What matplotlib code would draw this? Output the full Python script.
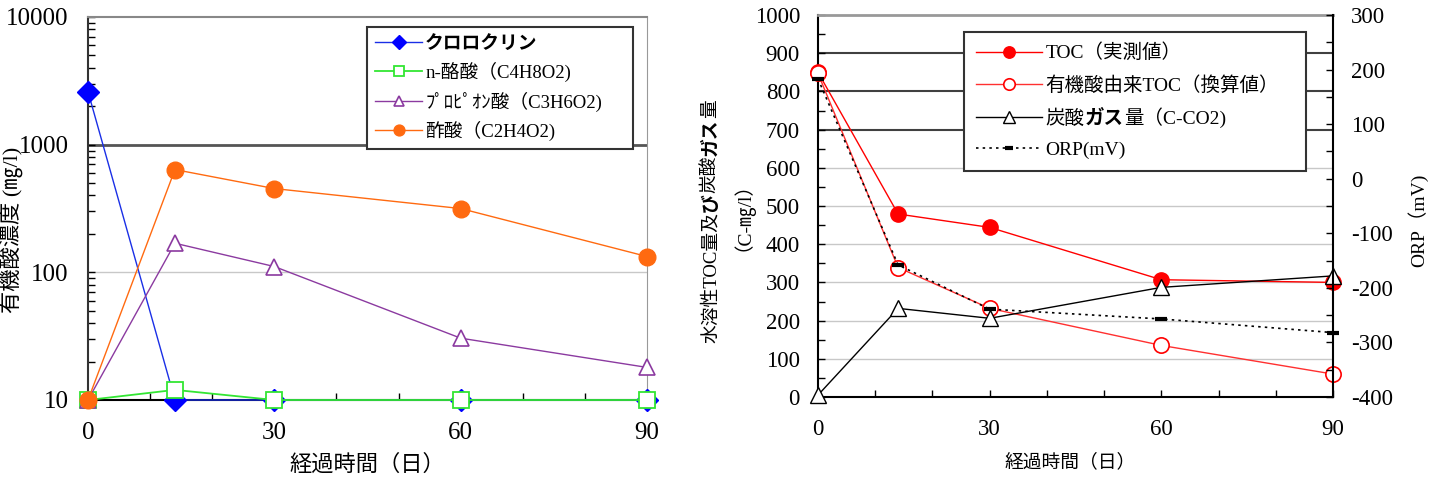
import matplotlib
matplotlib.use('Agg')
import matplotlib.pyplot as plt
from matplotlib.ticker import MultipleLocator, LogLocator, NullFormatter, FuncFormatter
from matplotlib.text import Annotation

plt.rcParams['font.family'] = ['Liberation Serif', 'Noto Sans CJK JP']
plt.rcParams['axes.unicode_minus'] = False

days = [0, 14, 30, 60, 90]

# left panel: organic acid concentration (mg/l)
chloropicrin = [2600, 10, 10, 10, 10]
butyric = [10, 12, 10, 10, 10]
propionic = [10, 169, 111, 30.5, 18]
acetic = [10, 638, 453, 316, 133]
left_labels = ['クロロクリン', 'n-酪酸（C4H8O2)', 'ﾌﾟﾛﾋﾟｵﾝ酸（C3H6O2)', '酢酸（C2H4O2)']

# right panel: TOC / CO2 (C-mg/l) and ORP (mV)
toc_measured = [850, 479, 444, 307, 300]
toc_from_acids = [847, 339, 232, 135, 60]
co2_gas = [5, 232, 206, 287, 317]
orp_mv = [183, -158, -239, -257, -282]
right_labels = ['TOC（実測値）', '有機酸由来TOC（換算値）', '炭酸', 'ORP(mV)']

W, H = 1430, 479
fig = plt.figure(figsize=(W / 100, H / 100), dpi=100)


def fx(px):
    return px / W


def fy(py):
    return 1 - py / H


#############################################################
# left: organic acids, log scale
#############################################################
ax1 = fig.add_axes([fx(88), fy(400), fx(647 - 88), (400 - 17) / H])
l1, = ax1.plot(days, chloropicrin, color='#1a2fe6', lw=1, marker='D', ms=11,
               mfc='#0000ff', mec='#0000ff', clip_on=False, zorder=3)
l2, = ax1.plot(days, butyric, color='#33e633', lw=1.3, marker='s', ms=11,
               mfc='white', mec='#33e633', mew=1.3, clip_on=False, zorder=4)
l3, = ax1.plot(days, propionic, color='#8b3aa0', lw=1, marker='^', ms=12,
               mfc='white', mec='#8b3aa0', mew=1.2, clip_on=False, zorder=4)
l4, = ax1.plot(days, acetic, color='#ff6a10', lw=1, marker='o', ms=12,
               mfc='#ff6a10', mec='#ff6a10', clip_on=False, zorder=5)

ax1.set_yscale('log')
ax1.set_ylim(10, 10000)
ax1.set_xlim(0, 90)
ax1.axhline(1000, color='#555555', lw=2, zorder=1)
ax1.axhline(100, color='#c8c8c8', lw=1, zorder=1)
ax1.yaxis.set_major_locator(LogLocator(base=10))
ax1.yaxis.set_minor_locator(LogLocator(base=10, subs=range(2, 10)))
ax1.yaxis.set_minor_formatter(NullFormatter())
ax1.yaxis.set_major_formatter(FuncFormatter(lambda v, p: '%.0f' % v))
ax1.xaxis.set_major_locator(MultipleLocator(30))
ax1.xaxis.set_minor_locator(MultipleLocator(10))
ax1.tick_params(which='both', direction='in', length=5, width=1,
                top=False, right=False)
ax1.tick_params(axis='y', which='major', labelsize=18, pad=14)
ax1.tick_params(axis='x', which='major', labelsize=18, pad=16)
ax1.spines['top'].set_color('#888888')
ax1.spines['top'].set_linewidth(1.5)
ax1.spines['right'].set_color('#999999')
ax1.spines['left'].set_color('#333333')
ax1.spines['left'].set_linewidth(1.5)
ax1.spines['bottom'].set_linewidth(1.5)

leg1 = ax1.legend([l1, l2, l3, l4], left_labels, loc='upper left',
                  bbox_to_anchor=(fx(367), fy(27), fx(633 - 367), 0),
                  bbox_transform=fig.transFigure, mode='expand', borderaxespad=0,
                  fancybox=False, edgecolor='#333333', framealpha=1, fontsize=13.5,
                  handlelength=2.5, handletextpad=0.15, labelspacing=0.5,
                  borderpad=0.45, markerscale=0.65)
leg1.get_frame().set_linewidth(1.5)
leg1.get_texts()[0].set_fontweight('bold')

fig.text(fx(367), fy(465), '経過時間（日）', ha='center', va='center', fontsize=16)
fig.text(fx(12), fy(230), '有機酸濃度 (㎎/l)', rotation=90, ha='center',
         va='center', fontsize=16)

#############################################################
# right: TOC, CO2 and ORP
#############################################################
ax2 = fig.add_axes([fx(818), fy(397), fx(1333 - 818), (397 - 15) / H])
for v in range(100, 700, 100):
    ax2.axhline(v, color='#c8c8c8', lw=1, zorder=0.5)
for v in range(700, 1000, 100):
    ax2.axhline(v, color='#404040', lw=1.5, zorder=0.5)

r1, = ax2.plot(days, toc_measured, color='#ff0000', lw=1, marker='o', ms=11,
               mfc='#ff0000', mec='#ff0000', clip_on=False, zorder=3)
r2, = ax2.plot(days, toc_from_acids, color='#ff3030', lw=1, marker='o', ms=11,
               mfc='white', mec='#ff0000', mew=1.2, clip_on=False, zorder=3)
r3, = ax2.plot(days, co2_gas, color='black', lw=1, marker='^', ms=11,
               mfc='white', mec='black', mew=1, clip_on=False, zorder=3)
ax2.set_xlim(0, 90)
ax2.set_ylim(0, 1000)

axr = ax2.twinx()
r4, = axr.plot(days, orp_mv, color='black', lw=1.2, ls=(0, (1.5, 2.5)),
               marker='_', ms=8, mew=3, clip_on=False, zorder=4)
axr.set_ylim(-400, 300)

for a in (ax2, axr):
    a.yaxis.set_major_locator(MultipleLocator(100))
    a.yaxis.set_minor_locator(MultipleLocator(50))
    a.yaxis.set_major_formatter(FuncFormatter(lambda v, p: '%d' % v))
ax2.xaxis.set_major_locator(MultipleLocator(30))
ax2.xaxis.set_minor_locator(MultipleLocator(10))
ax2.tick_params(which='both', direction='in', length=5, width=1,
                top=False, right=False)
ax2.tick_params(axis='y', which='major', labelsize=16.5, pad=13)
ax2.tick_params(axis='x', which='major', labelsize=16.5, pad=16)
axr.tick_params(which='both', direction='in', length=5, width=1,
                labelsize=16.5, pad=13)
ax2.spines['right'].set_visible(False)
ax2.spines['top'].set_color('#999999')
ax2.spines['top'].set_linewidth(2)
ax2.spines['left'].set_linewidth(1.5)
ax2.spines['bottom'].set_linewidth(1.5)
for s in ('left', 'top', 'bottom'):
    axr.spines[s].set_visible(False)
axr.spines['right'].set_linewidth(1.5)

leg2 = axr.legend([r1, r2, r3, r4], right_labels, loc='upper left',
                  bbox_to_anchor=(fx(964), fy(32), fx(1306 - 964), 0),
                  bbox_transform=fig.transFigure, mode='expand', borderaxespad=0,
                  fancybox=False, edgecolor='#333333', framealpha=1, fontsize=14,
                  handlelength=3.4, handletextpad=0.2, labelspacing=0.72,
                  borderpad=0.6, markerscale=0.75)
leg2.get_frame().set_linewidth(1.5)

# "炭酸ガス量（C-CO2)" with bold ガス
prev = leg2.get_texts()[2]
for s, w in [('ガス', 'bold'), ('量（C-CO2)', 'normal')]:
    a = Annotation(s, xy=(1, 0), xycoords=prev, ha='left', va='bottom',
                   fontsize=14, fontweight=w, zorder=10)
    fig.add_artist(a)
    prev = a

# rotated y label with bold parts
prev = fig.text(fx(702), fy(343), '水溶性TOC量及', rotation=90, ha='left',
                va='bottom', fontsize=13.5)
for s, w in [('び', 'bold'), ('炭酸', 'normal'), ('ガス', 'bold'), ('量', 'normal')]:
    a = Annotation(s, xy=(0, 1), xycoords=prev, rotation=90, ha='left',
                   va='bottom', fontsize=13.5, fontweight=w)
    fig.add_artist(a)
    prev = a
fig.text(fx(733), fy(207), '（C-㎎/l）', rotation=90, ha='center', va='center',
         fontsize=14)

fig.text(fx(1418), fy(220), 'ORP（mV)', rotation=90, ha='center', va='center',
         fontsize=14)
fig.text(fx(1070), fy(462), '経過時間（日）', ha='center', va='center', fontsize=13.5)

fig.savefig('out.png', dpi=100)
